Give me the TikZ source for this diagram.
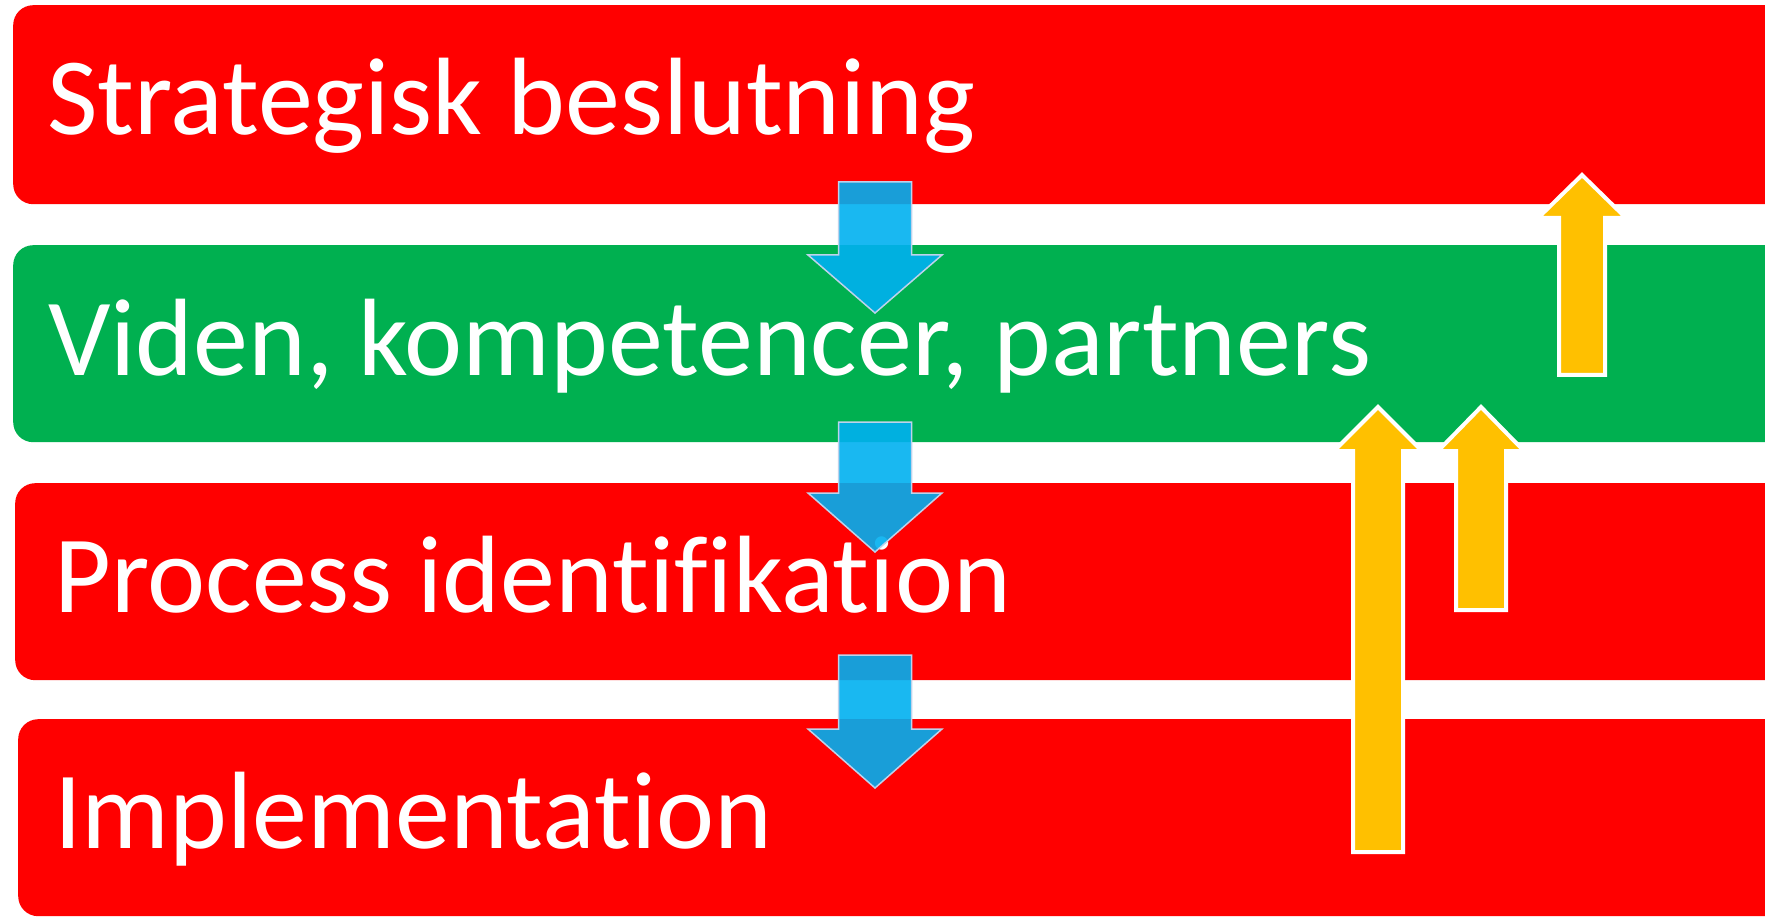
\documentclass[tikz,border=0pt]{standalone}
\usepackage{fontspec}
\setmainfont[Ligatures={NoCommon}]{Carlito}
\definecolor{bandred}{HTML}{FF0000}
\definecolor{bandgreen}{HTML}{00B050}
\definecolor{arrowblue}{HTML}{00B0F0}
\definecolor{arrowedge}{RGB}{190,210,235}
\definecolor{arrowgold}{HTML}{FFC000}
\tikzset{
    band/.style={rectangle, rounded corners=20pt, minimum width=1800pt, inner sep=0pt, anchor=north west},
    bandtext/.style={text=white, inner sep=0pt, anchor=base west, font=\fontsize{110}{120}\selectfont},
    downarrow/.style={fill=arrowblue, fill opacity=0.9, draw=arrowedge, line width=1.5pt, line join=miter},
    uparrow/.style={fill=arrowgold, draw=white, line width=4pt, line join=miter}
}
% cx, half shaft, half head, top, head base, tip
\newcommand\blockdown[6]{%
    \draw[downarrow] ({#1-#2},#4) -- ({#1+#2},#4) -- ({#1+#2},#5) -- ({#1+#3},#5)
        -- (#1,#6) -- ({#1-#3},#5) -- ({#1-#2},#5) -- cycle;}
% cx, half shaft, half head, bottom, head base, tip
\newcommand\blockup[6]{%
    \draw[uparrow] ({#1-#2},#4) -- ({#1+#2},#4) -- ({#1+#2},#5) -- ({#1+#3},#5)
        -- (#1,#6) -- ({#1-#3},#5) -- ({#1-#2},#5) -- cycle;}
\begin{document}
\begin{tikzpicture}[x=1pt, y=-1pt]
        \clip (0,0) rectangle (1765,917);
        % Bands.
        \node[band, fill=bandred, minimum height=199pt] (strat) at (13,5) {};
        \node[band, fill=bandgreen, minimum height=197pt] (viden) at (13,245) {};
        \node[band, fill=bandred, minimum height=197pt] (proc) at (15,483) {};
        \node[band, fill=bandred, minimum height=197pt] (impl) at (18,719) {};
        % Band texts.
        \node[bandtext] (stratText) at (47,135) {Strategisk beslutning};
        \node[bandtext] (videnText) at (48,375) {Viden, kompetencer, partners};
        \node[bandtext] (procText) at (54,612) {Process identifikation};
        \node[bandtext] (implText) at (54,848) {Implementation};
        % Blue arrows down.
        \blockdown{875}{36.5}{67}{182}{255}{313}
        \blockdown{875}{36.5}{67}{422}{493}{552}
        \blockdown{875}{36.5}{67}{655}{729}{788}
        % Yellow arrows up.
        \blockup{1378}{25}{44}{852}{451}{407}
        \blockup{1481}{25}{43}{610}{451}{407}
        \blockup{1582}{23}{44}{375}{218}{175}
    \end{tikzpicture}
\end{document}
